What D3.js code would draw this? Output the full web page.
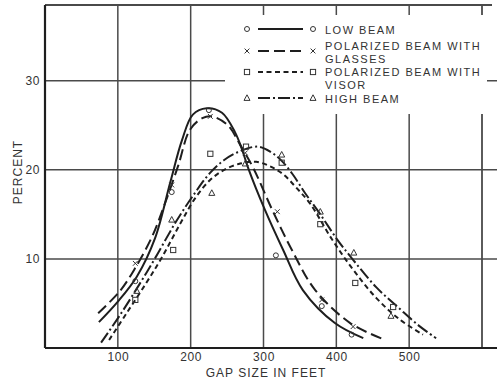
<!DOCTYPE html>
<html>
<head>
<meta charset="utf-8">
<script src="https://cdn.jsdelivr.net/npm/d3@7"></script>
<style>
  html, body { margin: 0; padding: 0; background: #fff; }
  svg { display: block; }
  text { font-family: "Liberation Sans", Arial, sans-serif; fill: #333; }
</style>
</head>
<body>
<svg id="chart" width="500" height="384"></svg>
<script>
// ---------- data (gap size in feet, percent) ----------
const xTicks = [100, 200, 300, 400, 500];
const yTicks = [10, 20, 30];
const xTitle = "GAP SIZE IN FEET";
const yTitle = "PERCENT";

const lowBeamCurve = [[74,2.9],[100,5.2],[126,8.0],[151,12.3],[172,18.6],[188,23.3],[203,26.2],[222,26.9],[243,26.4],[261,24.2],[270,22.4],[279,20.2],[302,15.5],[327,11.0],[354,6.5],[398,2.8],[437,1.1]];
const glassesCurve = [[73,3.9],[103,6.4],[124,9.0],[147,12.5],[165,16.3],[183,20.5],[199,24.5],[216,25.8],[229,26.0],[251,25.0],[268,22.8],[286,20.2],[312,15.5],[339,11.0],[371,6.5],[419,2.8],[464,1.0]];
const visorCurve = [[88,0.9],[112,3.9],[139,7.3],[160,10.1],[186,14.0],[206,16.8],[226,18.8],[246,20.0],[268,20.7],[290,20.9],[309,20.4],[327,19.5],[345,18.0],[364,16.2],[394,12.2],[423,8.8],[455,5.6],[487,3.2],[519,1.5]];
const highBeamCurve = [[77,0.6],[103,3.7],[130,7.2],[152,10.2],[180,14.2],[205,17.3],[226,19.6],[246,21.1],[268,22.1],[292,22.6],[310,22.0],[325,21.0],[340,19.5],[357,17.4],[378,15.0],[401,12.2],[423,9.9],[455,6.8],[487,4.4],[515,2.4],[537,1.1]];

const lowBeamPoints = [[124,7.5],[174,17.5],[225,26.7],[317,10.4],[380,4.7],[421,1.5]];
const glassesPoints = [[124,9.5],[174,18.3],[227,26.0],[275,21.9],[319,15.3],[380,5.4],[423,2.4]];
const visorPoints = [[124,5.4],[176,11.0],[227,21.8],[276,22.6],[325,20.8],[378,13.9],[426,7.3],[478,4.6]];
const highBeamPoints = [[126,6.4],[174,14.4],[229,17.4],[275,20.7],[325,21.7],[378,15.3],[424,10.7],[475,3.6]];

const legendLabels = [["LOW BEAM"], ["POLARIZED BEAM WITH", "GLASSES"], ["POLARIZED BEAM WITH", "VISOR"], ["HIGH BEAM"]];

// ---------- setup ----------
const svg = d3.select("#chart");
const ink = "#1e1e1e";
const grid = "#4a4a4a";
const x = d3.scaleLinear().domain([0, 600]).range([45, 482]);
const y = d3.scaleLinear().domain([0, 38.5]).range([348, 5]);

const series = [
  { curve: lowBeamCurve, points: lowBeamPoints, dash: null, marker: "circle" },
  { curve: glassesCurve, points: glassesPoints, dash: "11,5", marker: "cross" },
  { curve: visorCurve, points: visorPoints, dash: "5,3.5", marker: "square" },
  { curve: highBeamCurve, points: highBeamPoints, dash: "12,3,2,3", marker: "triangle" }
];

// gridlines
const g = svg.append("g");
g.selectAll("line.v").data(xTicks).join("line")
  .attr("x1", d => x(d)).attr("x2", d => x(d))
  .attr("y1", y.range()[1]).attr("y2", y.range()[0])
  .attr("stroke", grid).attr("stroke-width", 1.5);
g.selectAll("line.h").data(yTicks).join("line")
  .attr("x1", x.range()[0]).attr("x2", 497)
  .attr("y1", d => y(d)).attr("y2", d => y(d))
  .attr("stroke", grid).attr("stroke-width", 1.5);
// frame: top and right
g.append("line").attr("x1", 45).attr("x2", 492).attr("y1", y(38.5)).attr("y2", y(38.5))
  .attr("stroke", grid).attr("stroke-width", 1.8);
g.append("line").attr("x1", x(600)).attr("x2", x(600)).attr("y1", y(38.5)).attr("y2", y(0))
  .attr("stroke", grid).attr("stroke-width", 1.8);

// legend background masks the grid
svg.append("rect").attr("x", 225).attr("y", 15).attr("width", 262).attr("height", 99)
  .attr("fill", "#fff");

// axes
const xAxis = d3.axisBottom(x).tickValues(xTicks).tickSize(0).tickPadding(4).tickFormat(d3.format("d"));
const xg = svg.append("g").attr("transform", `translate(0,${y(0)})`).call(xAxis);
xg.select(".domain").remove();
xg.selectAll("text").attr("font-size", 12).attr("letter-spacing", 0.6).attr("fill", "#333")
  .attr("font-family", "Liberation Sans, Arial, sans-serif");

const yAxis = d3.axisLeft(y).tickValues(yTicks).tickSize(0).tickPadding(5);
const yg = svg.append("g").attr("transform", `translate(${x(0)},0)`).call(yAxis);
yg.select(".domain").remove();
yg.selectAll("text").attr("font-size", 12).attr("letter-spacing", 0.6).attr("fill", "#333")
  .attr("font-family", "Liberation Sans, Arial, sans-serif");

svg.append("line").attr("x1", x(0)).attr("x2", 497).attr("y1", y(0)).attr("y2", y(0))
  .attr("stroke", ink).attr("stroke-width", 2.2);
svg.append("line").attr("x1", x(0)).attr("x2", x(0)).attr("y1", y(38.5)).attr("y2", y(0))
  .attr("stroke", ink).attr("stroke-width", 2.2);

svg.append("text").attr("x", 266).attr("y", 377).attr("text-anchor", "middle")
  .attr("font-size", 12).attr("letter-spacing", 1).text(xTitle);
svg.append("text").attr("transform", "translate(22,172) rotate(-90)").attr("text-anchor", "middle")
  .attr("font-size", 12).attr("letter-spacing", 1).text(yTitle);

// curves
const line = d3.line().x(d => x(d[0])).y(d => y(d[1])).curve(d3.curveCatmullRom.alpha(0.5));
series.forEach(s => {
  svg.append("path").datum(s.curve).attr("d", line)
    .attr("fill", "none").attr("stroke", ink).attr("stroke-width", 2)
    .attr("stroke-dasharray", s.dash);
});

// markers
function drawMarker(sel, type, cx, cy) {
  let el;
  if (type === "circle") {
    el = sel.append("circle").attr("cx", cx).attr("cy", cy).attr("r", 2.5);
  } else if (type === "square") {
    el = sel.append("rect").attr("x", cx - 2.6).attr("y", cy - 2.6).attr("width", 5.2).attr("height", 5.2);
  } else if (type === "triangle") {
    el = sel.append("path").attr("d", `M${cx},${cy - 3.2}L${cx + 3},${cy + 2.4}L${cx - 3},${cy + 2.4}Z`);
  } else {
    el = sel.append("path").attr("d", `M${cx - 2.4},${cy - 2.4}L${cx + 2.4},${cy + 2.4}M${cx + 2.4},${cy - 2.4}L${cx - 2.4},${cy + 2.4}`);
  }
  el.attr("stroke", "#333").attr("stroke-width", 1).attr("fill", "none");
}
series.forEach(s => {
  const mg = svg.append("g");
  s.points.forEach(p => drawMarker(mg, s.marker, x(p[0]), y(p[1])));
});

// legend
const rowsY = [29, 51, 72, 98];
const textY = [[30], [46, 59], [72, 85], [99]];
const lg = svg.append("g");
series.forEach((s, i) => {
  drawMarker(lg, s.marker, 247, rowsY[i]);
  lg.append("line").attr("x1", 258).attr("x2", 303).attr("y1", rowsY[i]).attr("y2", rowsY[i])
    .attr("stroke", ink).attr("stroke-width", 2).attr("stroke-dasharray", s.dash);
  drawMarker(lg, s.marker, 313, rowsY[i]);
  legendLabels[i].forEach((t, j) => {
    lg.append("text").attr("x", 325).attr("y", textY[i][j] + 4)
      .attr("font-size", 11).attr("letter-spacing", 1.5).text(t);
  });
});
</script>
</body>
</html>
